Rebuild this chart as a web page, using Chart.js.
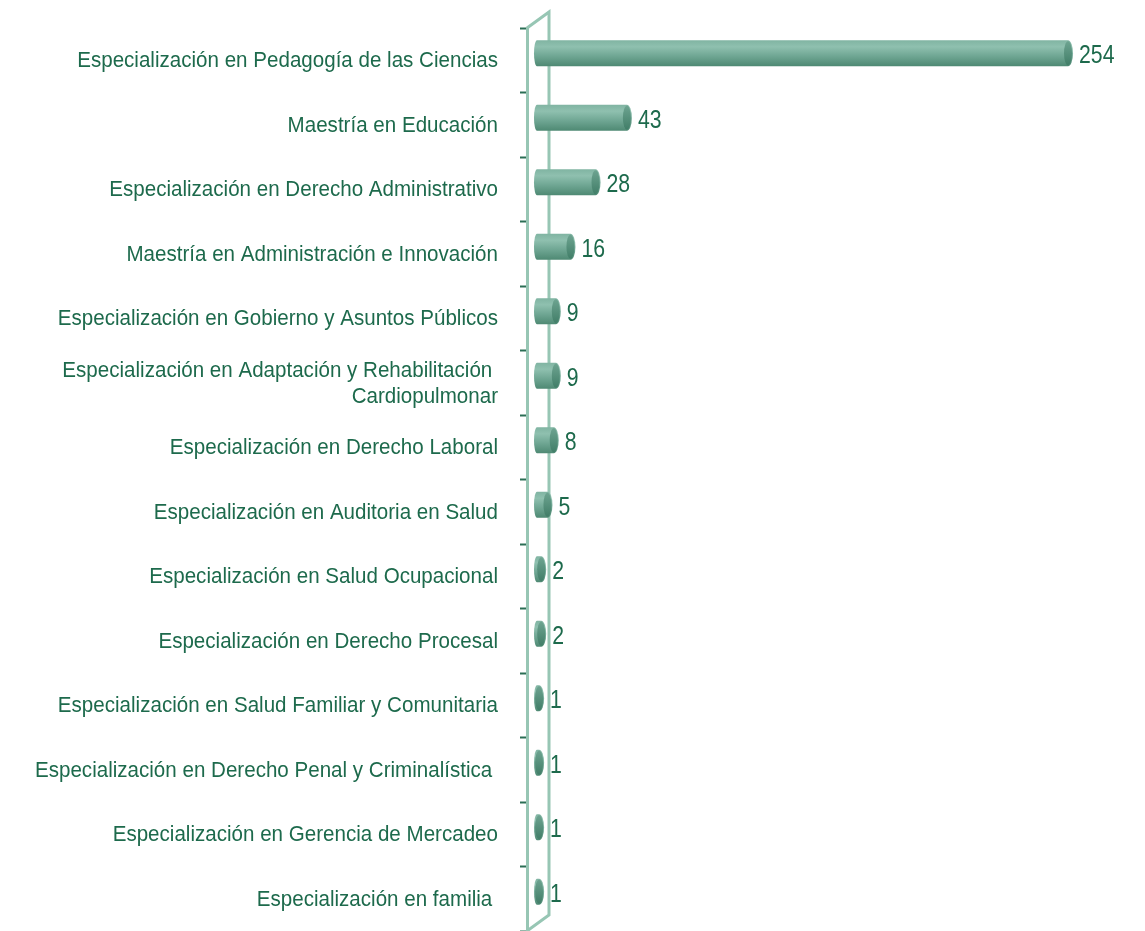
<!DOCTYPE html>
<html>
<head>
<meta charset="utf-8">
<script src="https://cdn.jsdelivr.net/npm/chart.js"></script>
<style>
  html, body { margin: 0; padding: 0; background: #fff; }
  #wrap { width: 1145px; height: 931px; }
</style>
</head>
<body>
<div id="wrap"><canvas id="my-chart" width="1145" height="931"></canvas></div>
<script>
const programas = [
    'Especialización en Pedagogía de las Ciencias',
    'Maestría en Educación',
    'Especialización en Derecho Administrativo',
    'Maestría en Administración e Innovación',
    'Especialización en Gobierno y Asuntos Públicos',
    ['Especialización en Adaptación y Rehabilitación ', 'Cardiopulmonar'],
    'Especialización en Derecho Laboral',
    'Especialización en Auditoria en Salud',
    'Especialización en Salud Ocupacional',
    'Especialización en Derecho Procesal',
    'Especialización en Salud Familiar y Comunitaria',
    'Especialización en Derecho Penal y Criminalística ',
    'Especialización en Gerencia de Mercadeo',
    'Especialización en familia '
];
const estudiantes = [254, 43, 28, 16, 9, 9, 8, 5, 2, 2, 1, 1, 1, 1];

const textColor = '#1d6a4c';
const wallColor = '#97c6b4';
const fontFamily = '"Liberation Sans", Arial, sans-serif';
// 3D depth of the wall, bars sit half way in
const depthX = 22, depthY = -16;
const barDx = 10, barDy = -7;

// narrow-looking text: Liberation Sans squeezed horizontally
function narrowText(ctx, text, x, y, size, align, squeeze) {
    ctx.save();
    ctx.font = size + 'px ' + fontFamily;
    ctx.textAlign = align;
    ctx.textBaseline = 'alphabetic';
    ctx.translate(x, y);
    ctx.scale(squeeze, 1);
    ctx.fillText(text, 0, 0);
    ctx.restore();
}

const cylinderPlugin = {
    id: 'cylinders',
    beforeDatasetsDraw(chart) {
        const ctx = chart.ctx;
        const a = chart.chartArea;
        ctx.save();
        ctx.strokeStyle = wallColor;
        ctx.lineWidth = 3;
        ctx.beginPath();
        ctx.moveTo(a.left, a.top);
        ctx.lineTo(a.left + depthX, a.top + depthY);
        ctx.lineTo(a.left + depthX, a.bottom + depthY);
        ctx.lineTo(a.left, a.bottom);
        ctx.stroke();
        ctx.restore();

        // category labels
        const yScale = chart.scales.y;
        ctx.save();
        ctx.fillStyle = textColor;
        chart.data.labels.forEach((lab, i) => {
            const yc = yScale.getPixelForValue(i);
            const lines = Array.isArray(lab) ? lab : [lab];
            const lh = 26;
            lines.forEach((line, k) => {
                const ly = yc + (k - (lines.length - 1) / 2) * lh;
                narrowText(ctx, line, a.left - 29, ly + 7, 22, 'right', 0.935);
            });
        });
        ctx.restore();
    },
    afterDatasetsDraw(chart) {
        const ctx = chart.ctx;
        const meta = chart.getDatasetMeta(0);
        ctx.save();
        meta.data.forEach((bar, i) => {
            const h = bar.height;
            const x0 = bar.base + barDx;
            const x1 = bar.x + barDx;
            const yc = bar.y + barDy;
            const top = yc - h / 2;
            const rx = 5;
            const g = ctx.createLinearGradient(0, top, 0, top + h);
            g.addColorStop(0, '#80b4a2');
            g.addColorStop(0.25, '#8fc0af');
            g.addColorStop(0.6, '#70a794');
            g.addColorStop(1, '#4e8973');
            ctx.fillStyle = g;
            ctx.beginPath();
            ctx.moveTo(x0, top);
            ctx.lineTo(x1, top);
            ctx.ellipse(x1, yc, rx, h / 2, 0, -Math.PI / 2, Math.PI / 2);
            ctx.lineTo(x0, top + h);
            ctx.ellipse(x0, yc, 3, h / 2, 0, Math.PI / 2, Math.PI * 1.5);
            ctx.closePath();
            ctx.fill();
            // end cap
            const cg = ctx.createLinearGradient(0, top, 0, top + h);
            cg.addColorStop(0, '#6fa592');
            cg.addColorStop(1, '#3f7c66');
            ctx.fillStyle = cg;
            ctx.beginPath();
            ctx.ellipse(x1, yc, rx - 1, h / 2 - 1, 0, 0, Math.PI * 2);
            ctx.fill();
            // value label
            ctx.fillStyle = textColor;
            narrowText(ctx, String(estudiantes[i]), x1 + rx + 6, yc + 10, 25, 'left', 0.85);
        });
        ctx.restore();
    }
};

const ctx = document.getElementById('my-chart').getContext('2d');
const myChart = new Chart(ctx, {
    type: 'bar',
    data: {
        labels: programas,
        datasets: [{
            label: 'Estudiantes',
            data: estudiantes,
            backgroundColor: 'rgba(0,0,0,0)',
            borderWidth: 0,
            barThickness: 26
        }]
    },
    options: {
        indexAxis: 'y',
        responsive: false,
        animation: false,
        layout: {
            padding: { top: 28, right: 87, bottom: -3, left: 0 }
        },
        plugins: {
            legend: { display: false },
            tooltip: { enabled: false }
        },
        scales: {
            x: {
                display: false,
                min: 0,
                max: 254
            },
            y: {
                afterFit(scale) {
                    scale.width = 527;
                    scale.paddingTop = 0;
                    scale.paddingBottom = 0;
                },
                grid: {
                    display: true,
                    drawOnChartArea: false,
                    drawTicks: true,
                    tickLength: 7,
                    tickWidth: 2,
                    tickColor: '#2b6e55',
                    offset: true
                },
                border: { display: true, color: wallColor, width: 3 },
                ticks: {
                    display: false,
                    autoSkip: false
                }
            }
        }
    },
    plugins: [cylinderPlugin]
});
</script>
</body>
</html>
